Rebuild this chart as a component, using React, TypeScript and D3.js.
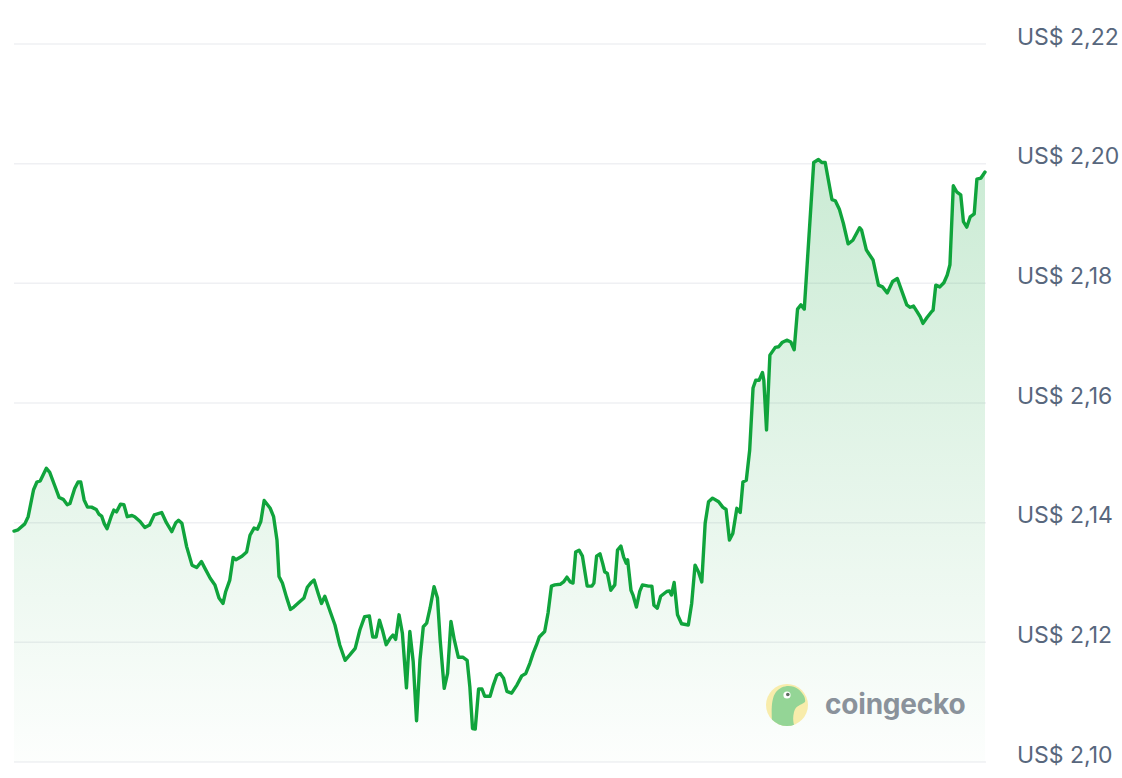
import React from "react";
import * as d3 from "d3";

// minutes since start of the 24h window
const times: number[] = [
  0, 6, 16, 21, 29, 34, 39, 48, 53, 61, 67, 73, 79, 83, 90, 95, 99, 104, 109, 115,
  122, 126, 130, 134, 138, 144, 148, 152, 158, 163, 168, 175, 179, 187, 194, 201, 208, 219, 226, 234,
  240, 244, 249, 256, 264, 271, 278, 283, 291, 298, 304, 310, 314, 320, 325, 329, 338, 345, 350, 356,
  361, 366, 371, 380, 385, 390, 393, 398, 404, 410, 415, 422, 430, 435, 440, 445, 451, 456, 461, 469,
  476, 483, 491, 498, 506, 513, 520, 527, 532, 537, 542, 547, 552, 558, 562, 566, 571, 576, 582, 587,
  592, 597, 602, 607, 612, 617, 623, 628, 632, 638, 643, 648, 653, 659, 666, 672, 676, 680, 684, 689,
  694, 698, 706, 711, 716, 721, 726, 731, 738, 746, 753, 759, 765, 770, 775, 779, 787, 792, 797, 802,
  810, 815, 820, 825, 829, 833, 838, 843, 850, 857, 860, 864, 869, 873, 876, 880, 885, 891, 895, 900,
  904, 908, 910, 915, 918, 923, 928, 932, 941, 946, 949, 954, 959, 968, 972, 975, 979, 984, 990, 1000,
  1005, 1010, 1015, 1020, 1025, 1030, 1036, 1045, 1051, 1056, 1061, 1066, 1072, 1077, 1081, 1086, 1091, 1096, 1100, 1105,
  1110, 1112, 1116, 1121, 1129, 1134, 1139, 1146, 1152, 1157, 1162, 1167, 1172, 1186, 1193, 1198, 1203, 1213, 1218, 1224,
  1230, 1237, 1244, 1254, 1257, 1264, 1268, 1274, 1282, 1288, 1295, 1303, 1310, 1316, 1324, 1329, 1334, 1339, 1344, 1348,
  1354, 1361, 1363, 1367, 1373, 1379, 1384, 1388, 1393, 1398, 1404, 1408, 1413, 1418, 1424, 1428, 1434, 1440,
];

// price in US$
const prices: number[] = [
  2.1386, 2.1388, 2.1398, 2.141, 2.1455, 2.1468, 2.147, 2.1491, 2.1484, 2.146, 2.1442, 2.1439, 2.143, 2.1432, 2.1457, 2.1468, 2.1468, 2.1438, 2.1426, 2.1426,
  2.1422, 2.1414, 2.1411, 2.1398, 2.139, 2.141, 2.1421, 2.1418, 2.1431, 2.143, 2.141, 2.1412, 2.141, 2.1402, 2.1392, 2.1396, 2.1413, 2.1417, 2.14, 2.1385,
  2.14, 2.1404, 2.1399, 2.136, 2.1329, 2.1325, 2.1335, 2.1324, 2.1307, 2.1296, 2.1274, 2.1265, 2.1285, 2.1304, 2.1342, 2.1338, 2.1344, 2.1351, 2.1379, 2.1391,
  2.1389, 2.1402, 2.1437, 2.1424, 2.141, 2.1371, 2.131, 2.1299, 2.1276, 2.1255, 2.1259, 2.1266, 2.1274, 2.1292, 2.1299, 2.1304, 2.1282, 2.1265, 2.1277, 2.1251,
  2.1229, 2.1196, 2.117, 2.1179, 2.119, 2.1221, 2.1243, 2.1244, 2.1209, 2.1209, 2.1237, 2.1218, 2.1196, 2.1207, 2.1212, 2.1205, 2.1246, 2.1215, 2.1124, 2.1218,
  2.1168, 2.1069, 2.117, 2.1226, 2.1232, 2.1257, 2.1293, 2.1274, 2.1204, 2.1123, 2.1148, 2.1235, 2.1204, 2.1175, 2.1175, 2.117, 2.1126, 2.1056, 2.1055, 2.1122,
  2.1122, 2.111, 2.111, 2.1129, 2.1145, 2.1148, 2.114, 2.1118, 2.1115, 2.1129, 2.1144, 2.1148, 2.1165, 2.1182, 2.1196, 2.1209, 2.1218, 2.1249, 2.1294, 2.1296,
  2.1297, 2.1301, 2.1309, 2.1301, 2.1299, 2.1351, 2.1354, 2.1344, 2.1294, 2.1294, 2.1299, 2.1344, 2.1348, 2.1332, 2.1318, 2.1315, 2.1287, 2.1296, 2.1354, 2.1361,
  2.1343, 2.1332, 2.1338, 2.1287, 2.1279, 2.1259, 2.1285, 2.1296, 2.1294, 2.1294, 2.1262, 2.1257, 2.1277, 2.1285, 2.1286, 2.1279, 2.13, 2.1246, 2.1231, 2.1229,
  2.1265, 2.1329, 2.1318, 2.1301, 2.1399, 2.1435, 2.1441, 2.1435, 2.1426, 2.1422, 2.1371, 2.1382, 2.1424, 2.1417, 2.1468, 2.1471, 2.1521, 2.1625, 2.1638, 2.1638,
  2.1651, 2.1638, 2.1555, 2.168, 2.1693, 2.1694, 2.1701, 2.1705, 2.1702, 2.1689, 2.1757, 2.1764, 2.1757, 2.2002, 2.2007, 2.2002, 2.2002, 2.194, 2.1938, 2.1924,
  2.19, 2.1866, 2.1872, 2.1893, 2.1889, 2.1856, 2.1849, 2.1839, 2.1797, 2.1794, 2.1784, 2.1803, 2.1808, 2.1789, 2.1764, 2.176, 2.1762, 2.1753, 2.1744, 2.1733,
  2.1743, 2.1753, 2.1755, 2.1797, 2.1794, 2.1801, 2.1814, 2.1831, 2.1963, 2.1953, 2.1948, 2.1903, 2.1894, 2.1911, 2.1916, 2.1974, 2.1976, 2.1986,
];

const yTicks: number[] = [2.1, 2.12, 2.14, 2.16, 2.18, 2.2, 2.22];

const W = 1122;
const H = 778;
const GREEN = "#10a43c";

export default function App() {
  const data = times.map((t, i) => ({ t, p: prices[i] }));
  const x = d3.scaleLinear().domain([0, 1440]).range([14, 985]);
  const y = d3.scaleLinear().domain([2.1, 2.22]).range([762, 44]);

  const line = d3
    .line<{ t: number; p: number }>()
    .x((d) => x(d.t))
    .y((d) => y(d.p));
  const area = d3
    .area<{ t: number; p: number }>()
    .x((d) => x(d.t))
    .y0(y(2.1))
    .y1((d) => y(d.p));

  const fmt = (v: number) => "US$ " + v.toFixed(2).replace(".", ",");

  return (
    <svg
      width={W}
      height={H}
      style={{ position: "absolute", left: 0, top: 0, background: "#fff" }}
      fontFamily="Inter, 'Noto Sans', sans-serif"
    >
      <defs>
        <linearGradient id="fillGrad" gradientUnits="userSpaceOnUse" x1="0" y1="160" x2="0" y2="762">
          <stop offset="0" stopColor={GREEN} stopOpacity={0.22} />
          <stop offset="1" stopColor={GREEN} stopOpacity={0.01} />
        </linearGradient>
        <clipPath id="logoClip">
          <circle cx={787} cy={705} r={21} />
        </clipPath>
      </defs>

      {yTicks.map((v) => (
        <line key={"g" + v} x1={14} x2={986} y1={y(v)} y2={y(v)} stroke="#eff0f3" strokeWidth={1.5} />
      ))}

      <path d={area(data) || ""} fill="url(#fillGrad)" />
      <path d={line(data) || ""} fill="none" stroke={GREEN} strokeWidth={3.4} strokeLinejoin="round" strokeLinecap="round" />

      {yTicks.map((v) => (
        <text key={"t" + v} x={1017} y={y(v) + 0.5} fontSize={23} fill="#58677d">
          {fmt(v)}
        </text>
      ))}

      {/* watermark */}
      <g>
        <circle cx={787} cy={705} r={21} fill="#f8ecab" />
        <g clipPath="url(#logoClip)">
          <path
            d="M772,730 C772,715 770,700 776,692 C781,685 792,684 798,689 C803,693 806,698 805,702 C800,706 796,705 794,712 C792,720 794,726 796,730 Z"
            fill="#94d596"
          />
        </g>
        <circle cx={787} cy={695} r={3.6} fill="#ffffff" />
        <circle cx={787.8} cy={694.5} r={1.8} fill="#5e6b61" />
        <text x={825} y={714} fontSize={28} fontWeight={700} fill="#8a929b" letterSpacing={-0.2}>
          coingecko
        </text>
      </g>
    </svg>
  );
}
